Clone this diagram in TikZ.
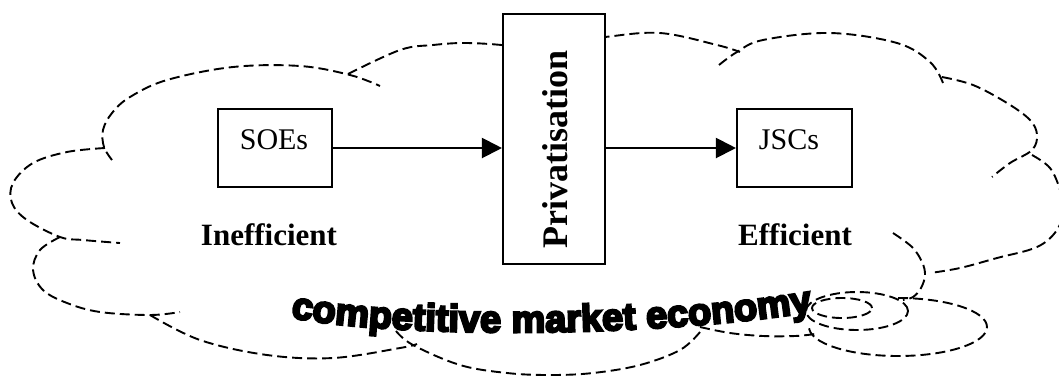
\documentclass[tikz,border=0pt]{standalone}
\usepackage{fontspec}
\setmainfont{Liberation Serif}
\newfontfamily\wafont[FakeBold=6]{Liberation Sans Bold}
\usetikzlibrary{arrows.meta,decorations.text}
\begin{document}
\begin{tikzpicture}[x=1pt,y=1pt,
  cloudline/.style={draw=black, line width=1.9pt, dash pattern=on 10pt off 5pt},
  boxnode/.style={draw=black, fill=white, line width=2.1pt, inner sep=0pt},
  lbl/.style={font=\fontsize{30}{36}\selectfont, inner sep=0pt},
  blbl/.style={font=\fontsize{31}{36}\selectfont\bfseries, inner sep=0pt},
  flow/.style={line width=2.1pt, -{Triangle[length=20pt,width=20pt]}}]
\useasboundingbox (0,0) rectangle (1059,-376);

% cloud lobes
\draw[cloudline] plot[smooth, tension=0.6] coordinates {(112,-160) (104,-147) (103,-130) (112,-113) (130,-97) (167,-80) (233,-67) (300,-66) (350,-75) (380,-86)};
\draw[cloudline] plot[smooth, tension=0.6] coordinates {(348,-74) (400,-50) (433,-45) (467,-43) (510,-46) (540,-53)};
\draw[cloudline] plot[smooth, tension=0.6] coordinates {(555,-44) (605,-37) (660,-33) (717,-45) (740,-52)};
\draw[cloudline] plot[smooth, tension=0.6] coordinates {(719,-65) (737,-52) (763,-40) (830,-33) (897,-43) (930,-62) (943,-83)};
\draw[cloudline] plot[smooth, tension=0.6] coordinates {(942,-77) (973,-85) (1007,-103) (1030,-120) (1037,-135) (1032,-150) (1010,-163) (992,-177)};
\draw[cloudline] plot[smooth, tension=0.6] coordinates {(1032,-155) (1050,-168) (1060,-190) (1063,-210) (1057,-230) (1037,-247) (997,-258) (960,-268) (930,-273)};
\draw[cloudline] plot[smooth, tension=0.6] coordinates {(893,-233) (912,-247) (922,-262) (925,-275) (921,-288) (913,-297) (903,-300)};
\draw[cloudline] (898,-298) arc[start angle=90, end angle=-180, x radius=89, y radius=29];
\draw[cloudline] plot[smooth, tension=0.6] coordinates {(700,-327) (730,-333) (763,-336) (795,-336) (815,-334)};
\draw[cloudline] plot[smooth, tension=0.6] coordinates {(396,-331) (413,-345) (460,-365) (507,-373) (550,-375) (593,-373) (640,-365) (680,-350) (700,-332)};
\draw[cloudline] plot[smooth, tension=0.6] coordinates {(150,-315) (200,-340) (267,-355) (333,-358) (400,-348) (417,-344)};
\draw[cloudline] plot[smooth, tension=0.6] coordinates {(60,-237) (40,-250) (33,-270) (43,-290) (67,-303) (100,-312) (150,-315) (180,-312)};
\draw[cloudline] plot[smooth, tension=0.6] coordinates {(105,-148) (67,-152) (33,-163) (13,-183) (12,-203) (27,-220) (60,-237) (83,-240) (120,-243)};
% callout bubbles
\draw[cloudline] (857,-311) ellipse[x radius=51, y radius=19];
\draw[cloudline] (842,-308) ellipse[x radius=30, y radius=10];

% boxes
\node[boxnode, minimum width=114pt, minimum height=78pt] (soe) at (275,-148) {};
\node[lbl] (soetext) at (274,-140) {SOEs};
\node[boxnode, minimum width=102pt, minimum height=250pt] (priv) at (554,-139) {};
\node[font=\fontsize{36}{40}\selectfont\bfseries, inner sep=0pt, rotate=90, anchor=base] (privtext) at (567,-149) {Privatisation};
\node[boxnode, minimum width=115pt, minimum height=78pt] (jsc) at (794.5,-148) {};
\node[lbl] (jsctext) at (789,-140) {JSCs};

\draw[flow] (soe.east) -- (soe.east -| priv.west);
\draw[flow] (priv.east |- jsc.west) -- (jsc.west);

\node[blbl, anchor=base] (ineff) at (269,-245) {Inefficient};
\node[blbl, anchor=base] (eff) at (795,-245) {Efficient};

\path[decorate, decoration={text along path, text={|\wafont\fontsize{38}{40}\selectfont|competitive market economy}, text align=center}]
  (293,-318) .. controls (400,-338) and (650,-338) .. (810,-312);
\end{tikzpicture}
\end{document}
